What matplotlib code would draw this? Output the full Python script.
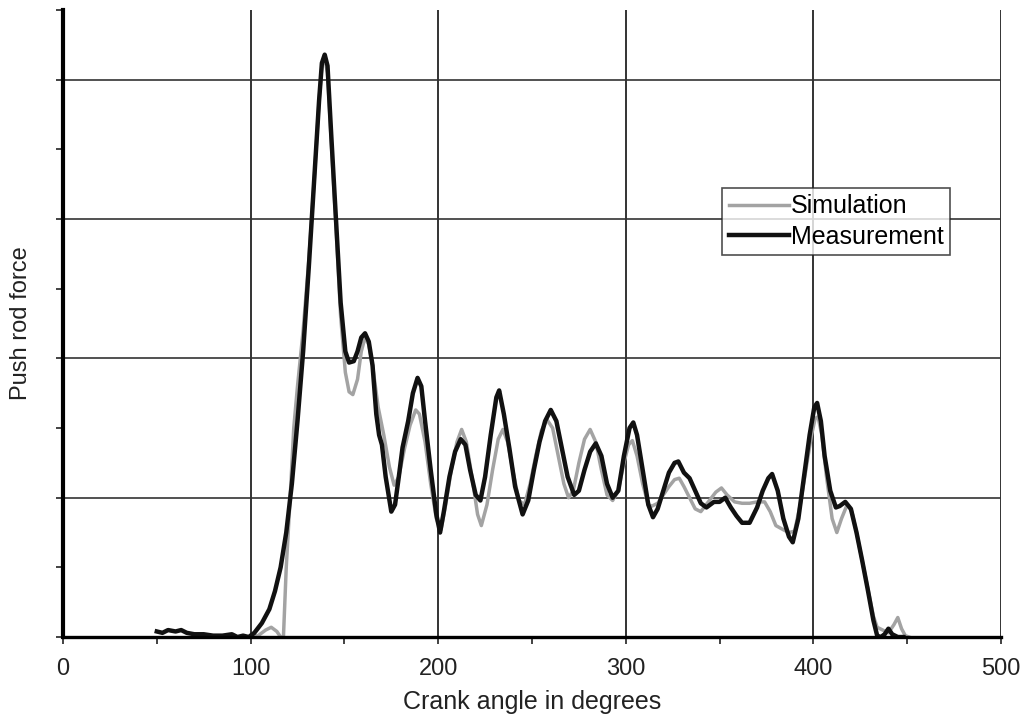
import matplotlib
matplotlib.use("Agg")
import matplotlib.pyplot as plt
from matplotlib.ticker import MultipleLocator

plt.rcParams['font.family'] = ['Liberation Sans', 'DejaVu Sans']

# crank angle (deg) / push rod force (grid units)
meas_angle = [50, 53, 56, 60, 63, 66, 70, 75, 80, 85, 90, 93, 96, 99,
              102, 106, 110, 113, 116, 119, 122, 125, 128, 131, 134, 136.5, 138, 139.5, 141,
              143, 145.5, 148, 150.5, 152.5, 155, 157, 159, 161, 163, 165, 167, 168.5, 170,
              172, 175, 177, 179, 181, 184, 186.5, 189, 191, 193, 196, 199, 201, 203, 206,
              209, 212, 214.5, 217, 220, 222.5, 225, 228, 231, 232.5, 235, 238, 241, 245,
              248, 251, 254, 257, 260, 263, 266, 269, 272.5, 275, 278, 281, 284, 287, 290,
              293, 296, 299, 302, 304, 306, 309, 312, 314.5, 317, 320, 323, 326, 328, 331,
              334, 337, 340, 343, 347, 350, 353, 356, 359, 362, 366, 370, 373, 376, 378,
              381, 384, 387, 389, 392, 395, 398, 400.5, 402, 404, 406, 409, 412, 414, 417,
              420, 423, 426, 429, 432, 434, 436, 438, 440, 442, 445, 448]
meas_force = [0.04, 0.03, 0.05, 0.04, 0.05, 0.03, 0.02, 0.02, 0.01, 0.01, 0.02, 0.0, 0.01, 0.0,
              0.03, 0.10, 0.20, 0.33, 0.50, 0.75, 1.10, 1.55, 2.05, 2.65, 3.30, 3.85, 4.12, 4.18, 4.10,
              3.6, 3.0, 2.4, 2.05, 1.97, 1.98, 2.05, 2.15, 2.18, 2.12, 1.95, 1.6, 1.45, 1.38,
              1.15, 0.90, 0.95, 1.15, 1.36, 1.55, 1.75, 1.86, 1.80, 1.55, 1.2, 0.88, 0.75, 0.9, 1.15,
              1.33, 1.42, 1.38, 1.2, 1.02, 0.98, 1.15, 1.45, 1.72, 1.77, 1.6, 1.35, 1.08, 0.88,
              0.98, 1.2, 1.4, 1.55, 1.63, 1.55, 1.35, 1.15, 1.02, 1.05, 1.2, 1.33, 1.39, 1.3, 1.1,
              1.0, 1.05, 1.3, 1.5, 1.54, 1.45, 1.2, 0.95, 0.86, 0.92, 1.05, 1.18, 1.25, 1.26, 1.18,
              1.14, 1.05, 0.96, 0.93, 0.97, 0.97, 1.0, 0.93, 0.87, 0.82, 0.82, 0.93, 1.05, 1.14, 1.17,
              1.05, 0.85, 0.72, 0.68, 0.85, 1.15, 1.45, 1.65, 1.68, 1.55, 1.3, 1.05, 0.93, 0.94, 0.97,
              0.92, 0.75, 0.55, 0.34, 0.12, 0.01, 0.0, 0.02, 0.06, 0.02, 0.0, 0.0]

sim_angle = [98, 104, 108, 111, 114, 116, 117.5, 119, 121, 123, 125, 128, 131, 134, 136.5,
             138, 139.5, 141, 143, 145.5, 148, 150.5, 152.5, 154.5, 157, 159, 161, 163, 165,
             168, 171, 174, 176.5, 179, 182, 185, 188, 190, 193, 196, 199, 201.5, 204, 207,
             210, 212.5, 215, 218, 221, 223, 226, 229, 232, 234.5, 237, 240, 243, 246, 249,
             252, 255, 258, 261, 264, 267, 269.5, 272, 275, 278, 281, 284, 287, 290, 293,
             296, 299, 301.5, 303.5, 306, 309, 312, 314, 317, 320, 323, 326, 328.5, 331, 334,
             337, 340, 344, 348, 351, 354, 358, 362, 366, 370, 374, 377, 380, 384, 387, 390,
             393, 396, 399, 401, 402.5, 404.5, 407, 410, 412.5, 415, 418, 420.5, 423, 426,
             429, 432, 434, 437, 440, 443, 445, 447, 449, 451]
sim_force = [0.0, 0.01, 0.05, 0.07, 0.04, 0.0, 0.0, 0.5, 0.98, 1.5, 1.8, 2.2, 2.7, 3.3, 3.85,
             4.1, 4.15, 4.05, 3.55, 2.95, 2.3, 1.9, 1.76, 1.74, 1.85, 2.05, 2.15, 2.1, 1.95,
             1.65, 1.45, 1.22, 1.09, 1.15, 1.35, 1.52, 1.63, 1.6, 1.4, 1.1, 0.85, 0.77, 0.95, 1.2,
             1.4, 1.49, 1.4, 1.15, 0.88, 0.8, 0.95, 1.2, 1.42, 1.49, 1.4, 1.18, 0.98, 0.95, 1.1,
             1.3, 1.48, 1.56, 1.5, 1.3, 1.1, 1.0, 1.05, 1.25, 1.42, 1.49, 1.4, 1.2, 1.02, 0.98,
             1.05, 1.25, 1.38, 1.41, 1.3, 1.1, 0.95, 0.94, 0.96, 1.02, 1.08, 1.13, 1.14, 1.08, 1.0,
             0.92, 0.9, 0.97, 1.04, 1.07, 1.02, 0.97, 0.96, 0.96, 0.97, 0.97, 0.9, 0.8, 0.77, 0.75, 0.76,
             0.95, 1.2, 1.45, 1.57, 1.58, 1.45, 1.15, 0.85, 0.75, 0.85, 0.95, 0.9, 0.75, 0.55,
             0.35, 0.15, 0.07, 0.05, 0.03, 0.09, 0.14, 0.06, 0.01, 0.0]

x_ticks = [0, 100, 200, 300, 400, 500]

fig = plt.figure(figsize=(10.28, 7.19), dpi=100)
ax = fig.add_axes([0.0613, 0.114, 0.9124, 0.872])

ax.plot(sim_angle, sim_force, color='#a3a3a3', lw=2.5, label='Simulation', zorder=3)
ax.plot(meas_angle, meas_force, color='#111111', lw=3.2, label='Measurement', zorder=4)

ax.set_xlim(0, 500)
ax.set_ylim(0, 4.5)
ax.set_xticks(x_ticks)
ax.xaxis.set_minor_locator(MultipleLocator(50))
ax.yaxis.set_major_locator(MultipleLocator(1))
ax.yaxis.set_minor_locator(MultipleLocator(0.5))
ax.set_yticklabels([])
ax.tick_params(axis='x', which='both', direction='out', length=5, width=1.2,
               labelsize=17, pad=10, colors='#222222')
ax.tick_params(axis='y', which='both', direction='out', length=5, width=1.2,
               colors='#222222')
ax.grid(True, which='major', color='#333333', lw=1.2)
for gx in x_ticks[1:]:
    ax.axvline(gx, color='#333333', lw=1.2, zorder=1)

for s in ['top', 'right']:
    ax.spines[s].set_visible(False)
ax.spines['left'].set_linewidth(3.0)
ax.spines['bottom'].set_linewidth(2.4)
ax.spines['left'].set_zorder(5)
ax.spines['bottom'].set_zorder(5)

ax.set_xlabel('Crank angle in degrees', fontsize=18, color='#222222', labelpad=7)
ax.set_ylabel('Push rod force', fontsize=17, color='#222222', labelpad=14)

leg = ax.legend(loc='upper left', bbox_to_anchor=(0.703, 0.716), fontsize=18,
                frameon=True, fancybox=False, handlelength=2.4, handletextpad=0.1,
                borderpad=0.25, labelspacing=0.25, borderaxespad=0)
leg.get_frame().set_edgecolor('#222222')
leg.get_frame().set_linewidth(1.2)
leg.set_zorder(6)

fig.savefig('out.png', dpi=100)
